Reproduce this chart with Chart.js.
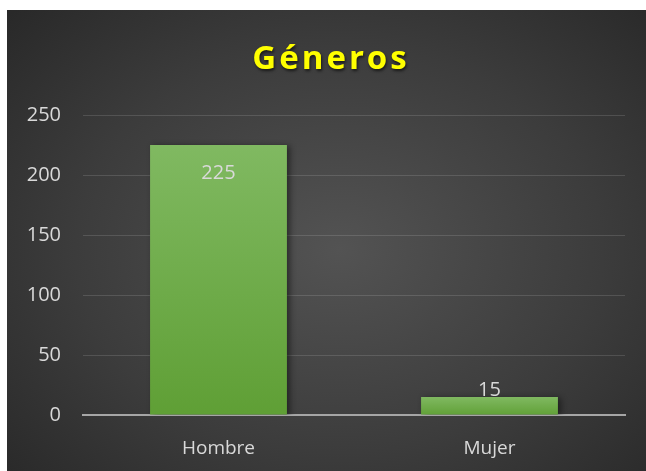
<!DOCTYPE html>
<html>
<head>
<meta charset="utf-8">
<script src="https://cdn.jsdelivr.net/npm/chart.js@4"></script>
<style>
    html, body { margin: 0; padding: 0; background: #ffffff; }
    #frame {
        position: absolute;
        left: 7px;
        top: 10px;
        width: 639px;
        height: 461px;
        background: radial-gradient(ellipse 75% 80% at 52% 52%, #535353 0%, #3c3c3c 55%, #262626 100%);
    }
    canvas { display: block; }
</style>
</head>
<body>
<div id="frame"><canvas id="chart" width="639" height="461"></canvas></div>
<script>
// Chart data
const categories = ['Hombre', 'Mujer'];
const values = [225, 15];
const yTicks = [0, 50, 100, 150, 200, 250];
const chartTitle = 'Géneros';

// Title drawn on the canvas with letter spacing and shadow
const titlePlugin = {
    id: 'bigTitle',
    afterDraw(chart) {
        const ctx = chart.ctx;
        ctx.save();
        ctx.font = 'bold 33px "Open Sans"';
        ctx.letterSpacing = '3px';
        ctx.textAlign = 'center';
        ctx.textBaseline = 'middle';
        ctx.shadowColor = 'rgba(0,0,0,0.6)';
        ctx.shadowBlur = 3;
        ctx.shadowOffsetX = 1;
        ctx.shadowOffsetY = 2;
        ctx.fillStyle = '#ffff00';
        ctx.fillText(chartTitle, 324, 50);
        ctx.restore();
    }
};

// Value labels on the bars
const valueLabels = {
    id: 'valueLabels',
    afterDatasetsDraw(chart) {
        const ctx = chart.ctx;
        const meta = chart.getDatasetMeta(0);
        ctx.save();
        ctx.font = '20px "Open Sans"';
        ctx.fillStyle = '#d9d9d9';
        ctx.textAlign = 'center';
        ctx.textBaseline = 'middle';
        meta.data.forEach((bar, i) => {
            const h = bar.base - bar.y;
            const y = h > 60 ? bar.y + 28 : bar.y - 7;
            ctx.fillText(values[i], bar.x, y);
        });
        ctx.restore();
    }
};

// Soft shadow behind bars
const barShadow = {
    id: 'barShadow',
    beforeDatasetsDraw(chart) {
        const ctx = chart.ctx;
        ctx.save();
        ctx.shadowColor = 'rgba(0,0,0,0.45)';
        ctx.shadowBlur = 6;
        ctx.shadowOffsetX = 3;
        ctx.shadowOffsetY = 1;
    },
    afterDatasetsDraw(chart) {
        chart.ctx.restore();
    }
};

// Gradient from the top of each bar down to the axis
function barGradient(context) {
    const chart = context.chart;
    const area = chart.chartArea;
    if (!area || context.raw == null) return '#70b04a';
    const top = chart.scales.y.getPixelForValue(context.raw);
    const bottom = chart.scales.y.getPixelForValue(0);
    const g = chart.ctx.createLinearGradient(0, top, 0, bottom + 1);
    g.addColorStop(0, '#80b961');
    g.addColorStop(1, '#5f9f35');
    return g;
}

const ctx = document.getElementById('chart').getContext('2d');
new Chart(ctx, {
    type: 'bar',
    data: {
        labels: categories,
        datasets: [{
            data: values,
            backgroundColor: barGradient,
            borderWidth: 0,
            barPercentage: 0.505,
            categoryPercentage: 1
        }]
    },
    options: {
        responsive: false,
        animation: false,
        layout: { padding: { top: 105, right: 21, left: 0, bottom: 0 } },
        plugins: {
            legend: { display: false },
            title: { display: false },
            tooltip: { enabled: false }
        },
        scales: {
            x: {
                grid: { display: false },
                border: { display: true, color: '#a6a6a6', width: 2 },
                ticks: {
                    color: '#d9d9d9',
                    font: { family: 'Open Sans', size: 19 },
                    padding: 14
                },
                afterFit(scale) { scale.height = 56; }
            },
            y: {
                min: 0,
                max: 250,
                afterBuildTicks(scale) {
                    scale.ticks = yTicks.map(v => ({ value: v }));
                },
                grid: { color: 'rgba(255,255,255,0.13)', drawTicks: false },
                border: { display: false },
                ticks: {
                    color: '#d9d9d9',
                    font: { family: 'Open Sans', size: 20 },
                    padding: 22
                },
                afterFit(scale) { scale.width = 76; }
            }
        }
    },
    plugins: [barShadow, valueLabels, titlePlugin]
});
</script>
</body>
</html>
